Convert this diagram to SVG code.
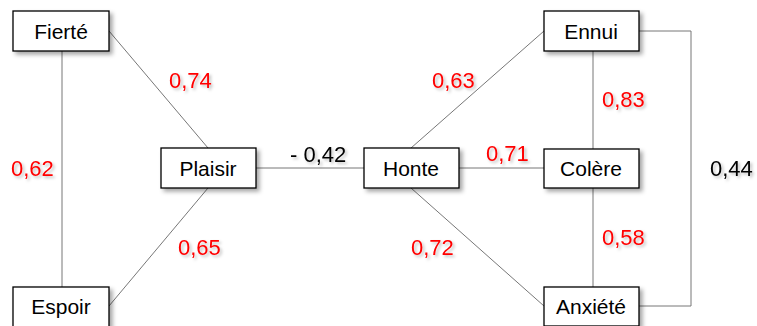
<svg xmlns="http://www.w3.org/2000/svg" width="757" height="326" viewBox="0 0 757 326">
<style>
.box{fill:#fff;stroke:#000;stroke-width:1.3}
.t{font-family:"Liberation Sans",Arial,sans-serif;font-size:21px;fill:#000;text-anchor:middle}
.r{font-family:"Liberation Sans",Arial,sans-serif;font-size:22px;fill:#ff0000}
.k{font-family:"Liberation Sans",Arial,sans-serif;font-size:22px;fill:#000}
.c{fill:none;stroke:#777;stroke-width:1}
</style>
<defs>
<filter id="sh" x="-20%" y="-20%" width="150%" height="160%">
<feDropShadow dx="3" dy="3" stdDeviation="2" flood-color="#000" flood-opacity="0.35"/>
</filter>
<filter id="ts" x="-20%" y="-20%" width="150%" height="160%">
<feDropShadow dx="2" dy="2" stdDeviation="1.5" flood-color="#000" flood-opacity="0.25"/>
</filter>
</defs>
<g id="connectors">
<line class="c" x1="62" y1="51" x2="62" y2="287"/>
<line class="c" x1="109" y1="31" x2="208" y2="148"/>
<line class="c" x1="208" y1="188" x2="109" y2="306"/>
<line class="c" x1="256" y1="168" x2="364" y2="168"/>
<line class="c" x1="411" y1="148" x2="544" y2="31"/>
<line class="c" x1="411" y1="188" x2="544" y2="306"/>
<line class="c" x1="459" y1="168" x2="544" y2="168"/>
<line class="c" x1="593" y1="51" x2="593" y2="149"/>
<line class="c" x1="593" y1="188" x2="593" y2="287"/>
<polyline class="c" points="639,31 691,31 691,306 639,306"/>
</g>
<g id="labels" filter="url(#ts)">
<text class="r" x="169" y="88">0,74</text>
<text class="r" x="11" y="176">0,62</text>
<text class="r" x="178" y="255">0,65</text>
<text class="k" x="290" y="162">- 0,42</text>
<text class="r" x="432" y="88">0,63</text>
<text class="r" x="486" y="161">0,71</text>
<text class="r" x="411" y="255">0,72</text>
<text class="r" x="602" y="107">0,83</text>
<text class="r" x="602" y="245">0,58</text>
<text class="k" x="710" y="176">0,44</text>
</g>
<g id="fierte"><rect class="box" x="13" y="11" width="96" height="40" filter="url(#sh)"/><text class="t" x="61" y="39">Fierté</text></g>
<g id="espoir"><rect class="box" x="13" y="287" width="96" height="40" filter="url(#sh)"/><text class="t" x="61" y="314">Espoir</text></g>
<g id="plaisir"><rect class="box" x="161" y="148" width="95" height="40" filter="url(#sh)"/><text class="t" x="208" y="176">Plaisir</text></g>
<g id="honte"><rect class="box" x="364" y="148" width="95" height="40" filter="url(#sh)"/><text class="t" x="411" y="176">Honte</text></g>
<g id="ennui"><rect class="box" x="544" y="11" width="95" height="40" filter="url(#sh)"/><text class="t" x="591" y="39">Ennui</text></g>
<g id="colere"><rect class="box" x="544" y="149" width="95" height="39" filter="url(#sh)"/><text class="t" x="591" y="176">Colère</text></g>
<g id="anxiete"><rect class="box" x="544" y="287" width="95" height="39" filter="url(#sh)"/><text class="t" x="591" y="314">Anxiété</text></g>
</svg>
